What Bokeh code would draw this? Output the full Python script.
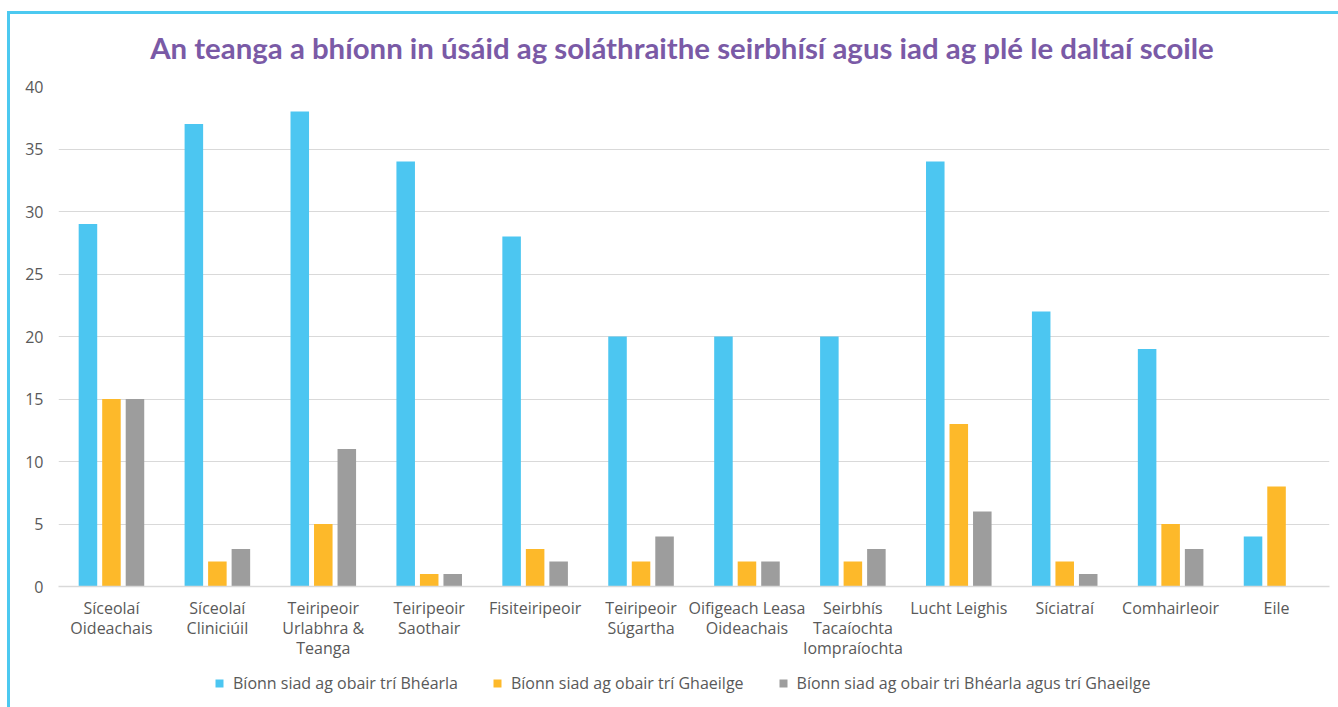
from bokeh.plotting import figure
from bokeh.layouts import column
from bokeh.models import (ColumnDataSource, FactorRange, Legend, LegendItem, Range1d,
                          SingleIntervalTicker, Label)
from bokeh.transform import dodge
from bokeh.embed import file_html
from bokeh.resources import INLINE

categories = ["Síceolaí\nOideachais", "Síceolaí\nCliniciúil", "Teiripeoir\nUrlabhra &\nTeanga",
              "Teiripeoir\nSaothair", "Fisiteiripeoir", "Teiripeoir\nSúgartha",
              "Oifigeach Leasa\nOideachais", "Seirbhís\nTacaíochta\nIompraíochta",
              "Lucht Leighis", "Síciatraí", "Comhairleoir", "Eile"]
bearla = [29, 37, 38, 34, 28, 20, 20, 20, 34, 22, 19, 4]
gaeilge = [15, 2, 5, 1, 3, 2, 2, 2, 13, 2, 5, 8]
both = [15, 3, 11, 1, 2, 4, 2, 3, 6, 1, 3, 0]
series_names = ["Bíonn siad ag obair trí Bhéarla",
                "Bíonn siad ag obair trí Ghaeilge",
                "Bíonn siad ag obair tri Bhéarla agus trí Ghaeilge"]
title_text = "An teanga a bhíonn in úsáid ag soláthraithe seirbhísí agus iad ag plé le daltaí scoile"

colors = ["#4cc6f1", "#fdb92a", "#9d9d9d"]
FONT = "Open Sans"
TXT = "#595959"

# title strip
h = figure(width=1328, height=50, output_backend="svg", toolbar_location=None,
           x_range=Range1d(0, 1), y_range=Range1d(0, 1),
           x_axis_location=None, y_axis_location=None,
           min_border_left=0, min_border_right=0, min_border_top=0, min_border_bottom=0)
h.grid.grid_line_color = None
h.outline_line_color = None
h.add_layout(Label(x=623.5, y=17, x_units="screen", y_units="screen", text=title_text,
                   text_align="center", text_baseline="alphabetic", text_font="Lato",
                   text_font_style="bold", text_font_size="29.4px", text_color="#7a5aa6"))

src = ColumnDataSource(dict(cat=categories, b=bearla, g=gaeilge, t=both))

p = figure(x_range=FactorRange(*categories), y_range=Range1d(0, 40),
           width=1328, height=602, output_backend="svg", toolbar_location=None,
           min_border_left=48, min_border_right=9, min_border_top=22, min_border_bottom=80)

fields = ["b", "g", "t"]
offsets = [-0.222, 0, 0.222]
for f, off, c in zip(fields, offsets, colors):
    p.vbar(x=dodge("cat", off, range=p.x_range), top=f, width=0.175, source=src,
           fill_color=c, line_color=None)

p.outline_line_color = None
p.xgrid.grid_line_color = None
p.ygrid.grid_line_color = "#d9d9d9"
p.ygrid.grid_line_width = 1

p.yaxis.ticker = SingleIntervalTicker(interval=5)
p.yaxis.axis_line_color = None
p.yaxis.major_tick_line_color = None
p.yaxis.minor_tick_line_color = None
p.yaxis.major_label_text_font = FONT
p.yaxis.major_label_text_font_size = "16px"
p.yaxis.major_label_text_color = TXT
p.yaxis.major_label_standoff = 9

p.xaxis.axis_line_color = "#d9d9d9"
p.xaxis.axis_line_width = 1.5
p.xaxis.major_tick_line_color = None
p.xaxis.minor_tick_line_color = None
p.xaxis.major_label_text_font = FONT
p.xaxis.major_label_text_font_size = "16px"
p.xaxis.major_label_text_color = TXT
p.xaxis.major_label_text_line_height = 0.92
p.xaxis.major_label_standoff = 4
p.x_range.range_padding = 0
p.x_range.group_padding = 0

# legend strip below the chart (swatch renderers have zero height, so only the legend shows them)
q = figure(width=1328, height=41, output_backend="svg", toolbar_location=None,
           x_range=Range1d(0, 1), y_range=Range1d(0, 1),
           x_axis_location=None, y_axis_location=None,
           min_border_left=0, min_border_right=0, min_border_top=0, min_border_bottom=0)
q.grid.grid_line_color = None
q.outline_line_color = None
legend_renderers = [q.vbar(x=[0.5], top=[0], width=0.1, fill_color=c, line_color=None) for c in colors]
legend = Legend(items=[LegendItem(label=n, renderers=[r]) for n, r in zip(series_names, legend_renderers)],
                orientation="horizontal", location=(156, 13))
legend.glyph_width = 10
legend.glyph_height = 10
legend.label_standoff = 9
legend.spacing = 34
legend.label_text_font = FONT
legend.label_text_font_size = "16px"
legend.label_text_color = TXT
legend.border_line_color = None
legend.background_fill_alpha = 0
legend.margin = 0
legend.padding = 4
q.add_layout(legend, "center")

layout = column(h, p, q, spacing=0)
layout.styles = {"border-top": "3px solid #4cc9f0", "border-left": "3px solid #4cc9f0",
                 "margin-left": "7px", "margin-top": "11px"}

open("out.html", "w").write(file_html(layout, INLINE))
